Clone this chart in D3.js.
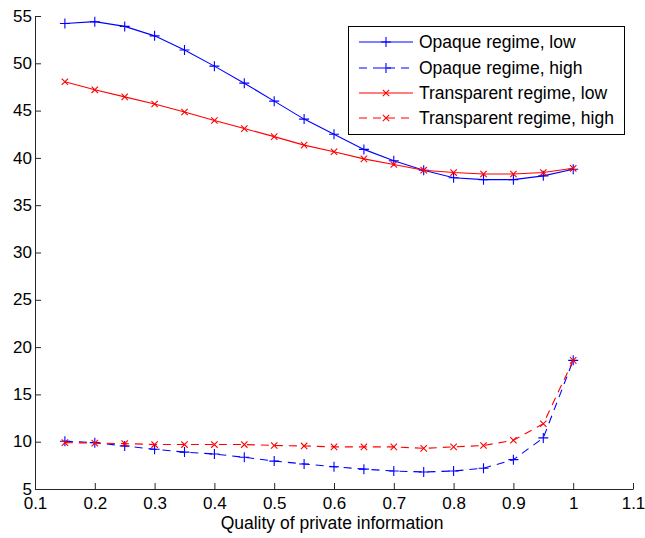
<!DOCTYPE html>
<html>
<head>
<meta charset="utf-8">
<script src="https://cdn.jsdelivr.net/npm/d3@7"></script>
<style>
  html, body { margin: 0; padding: 0; background: #fff; }
  svg { display: block; font-family: "Liberation Sans", Arial, Helvetica, sans-serif; }
</style>
</head>
<body>
<svg id="chart" width="645" height="538"></svg>
<script>
// Quality of private information (x values)
const quality = [0.15, 0.2, 0.25, 0.3, 0.35, 0.4, 0.45, 0.5, 0.55, 0.6,
                 0.65, 0.7, 0.75, 0.8, 0.85, 0.9, 0.95, 1.0];

const opaqueLow = [54.2, 54.4, 53.9, 52.9, 51.4, 49.7, 47.9, 46.0, 44.1, 42.5,
                   40.9, 39.7, 38.7, 37.9, 37.7, 37.7, 38.1, 38.8];
const opaqueHigh = [10.05, 9.9, 9.55, 9.2, 8.9, 8.7, 8.35, 7.95, 7.65, 7.35,
                    7.1, 6.9, 6.8, 6.9, 7.2, 8.1, 10.4, 18.6];
const transparentLow = [48.05, 47.2, 46.45, 45.7, 44.85, 43.95, 43.1, 42.25, 41.35, 40.65,
                        39.9, 39.3, 38.7, 38.45, 38.3, 38.3, 38.45, 38.9];
const transparentHigh = [9.9, 9.85, 9.8, 9.7, 9.7, 9.7, 9.7, 9.6, 9.55, 9.45,
                         9.45, 9.45, 9.3, 9.45, 9.6, 10.15, 11.9, 18.6];

const seriesNames = ["Opaque regime, low", "Opaque regime, high",
                     "Transparent regime, low", "Transparent regime, high"];

const xTicks = [0.1, 0.2, 0.3, 0.4, 0.5, 0.6, 0.7, 0.8, 0.9, 1, 1.1];
const yTicks = [5, 10, 15, 20, 25, 30, 35, 40, 45, 50, 55];
const xLabel = "Quality of private information";

const series = [
  { name: seriesNames[0], values: opaqueLow,       color: "#0000ff", dash: null,  marker: "plus" },
  { name: seriesNames[1], values: opaqueHigh,      color: "#0000ff", dash: "8,6", marker: "plus" },
  { name: seriesNames[2], values: transparentLow,  color: "#ff0000", dash: null,  marker: "cross" },
  { name: seriesNames[3], values: transparentHigh, color: "#ff0000", dash: "8,6", marker: "cross" }
];

const svg = d3.select("#chart");
const plotLeft = 35, plotRight = 633, plotTop = 16, plotBottom = 489;

const x = d3.scaleLinear().domain([0.1, 1.1]).range([plotLeft, plotRight]);
const y = d3.scaleLinear().domain([5, 55]).range([plotBottom, plotTop]);

const axisColor = "#262626";
const tickFont = 17;
const labelFont = 17.5;

// Axes with inward ticks
const xAxis = d3.axisBottom(x).tickValues(xTicks).tickSizeInner(-6).tickSizeOuter(0)
  .tickFormat(d => d3.format("~g")(d));
const gx = svg.append("g").attr("transform", `translate(0,${plotBottom})`).call(xAxis);

const yAxis = d3.axisLeft(y).tickValues(yTicks).tickSizeInner(-6).tickSizeOuter(0)
  .tickFormat(d3.format("~g"));
const gy = svg.append("g").attr("transform", `translate(${plotLeft},0)`).call(yAxis);

[gx, gy].forEach(g => {
  g.select(".domain").attr("stroke", axisColor).attr("stroke-width", 1);
  g.selectAll(".tick line").attr("stroke", axisColor);
  g.selectAll(".tick text").attr("fill", "#000").style("font-size", tickFont + "px")
    .style("font-family", "'Liberation Sans', Arial, sans-serif");
});
gx.selectAll(".tick text").attr("dy", null).attr("y", 20);
gy.selectAll(".tick text").attr("x", -3).attr("dy", "0.3em");

svg.append("text")
  .attr("x", (plotLeft + plotRight) / 2 - 2)
  .attr("y", 529)
  .attr("text-anchor", "middle")
  .style("font-size", labelFont + "px")
  .attr("fill", "#000")
  .text(xLabel);

// Marker path generators
function markerPath(type) {
  if (type === "plus") {
    const r = 5;
    return `M${-r},0H${r}M0,${-r}V${r}`;
  }
  const r = 3.2;
  return `M${-r},${-r}L${r},${r}M${-r},${r}L${r},${-r}`;
}

const line = d3.line().x(d => x(d[0])).y(d => y(d[1]));

const plot = svg.append("g");
series.forEach(s => {
  const pts = quality.map((q, i) => [q, s.values[i]]);
  plot.append("path")
    .datum(pts)
    .attr("d", line)
    .attr("fill", "none")
    .attr("stroke", s.color)
    .attr("stroke-width", 1.1)
    .attr("stroke-dasharray", s.dash);
  plot.selectAll(null)
    .data(pts)
    .enter().append("path")
    .attr("transform", d => `translate(${x(d[0])},${y(d[1])})`)
    .attr("d", markerPath(s.marker))
    .attr("fill", "none")
    .attr("stroke", s.color)
    .attr("stroke-width", 1.1);
});

// Legend
const legend = svg.append("g");
legend.append("rect")
  .attr("x", 348.5).attr("y", 26.5)
  .attr("width", 276).attr("height", 108)
  .attr("fill", "#fff").attr("stroke", "#000").attr("stroke-width", 1);

const rowY = [42, 68, 93, 118];
series.forEach((s, i) => {
  const g = legend.append("g").attr("transform", `translate(0,${rowY[i]})`);
  g.append("line")
    .attr("x1", 359).attr("x2", 413).attr("y1", 0).attr("y2", 0)
    .attr("stroke", s.color).attr("stroke-width", 1.1)
    .attr("stroke-dasharray", s.dash);
  g.append("path")
    .attr("transform", "translate(386,0)")
    .attr("d", markerPath(s.marker))
    .attr("fill", "none").attr("stroke", s.color).attr("stroke-width", 1.1);
  g.append("text")
    .attr("x", 419).attr("y", 0).attr("dy", "0.36em")
    .style("font-size", labelFont + "px")
    .attr("fill", "#000")
    .text(s.name);
});
</script>
</body>
</html>
